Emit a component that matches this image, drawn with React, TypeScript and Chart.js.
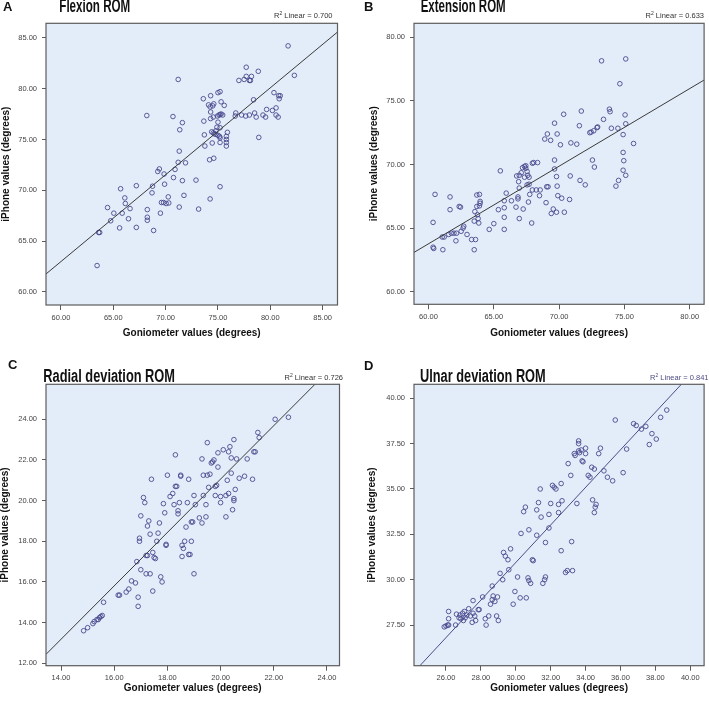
import React, { useEffect, useRef } from "react";
import { Chart, registerables } from "chart.js";
Chart.register(...registerables);

// ---------- Panel A: Flexion ROM ----------
const flexionGoniometer = [81.7, 82.3, 77.7, 78.85, 77.0, 77.5, 77.7, 78.0, 78.2, 78.1, 71.2, 75.0, 75.2, 73.6, 74.3, 75.3, 75.6, 74.1, 74.25, 74.5, 74.6, 78.4, 80.35, 80.8, 80.85, 80.95, 80.55, 80.2, 79.65, 79.3, 79.55, 80.55, 80.75, 78.5, 78.65, 76.7, 76.65, 77.25, 77.65, 78.0, 74.3, 74.3, 74.55, 74.95, 75.1, 75.2, 75.3, 75.45, 75.0, 75.2, 74.9, 74.8, 74.4, 74.55, 74.65, 74.8, 75.0, 75.15, 75.9, 75.8, 75.8, 75.8, 75.8, 75.2, 75.2, 74.45, 73.7, 73.65, 73.75, 74.2, 74.6, 75.2, 74.25, 73.15, 72.9, 78.9, 70.7, 71.6, 71.35, 71.3, 71.2, 71.9, 70.9, 70.75, 71.6, 69.4, 69.25, 69.85, 69.9, 68.75, 68.7, 71.75, 70.25, 69.6, 69.8, 70.05, 70.3, 71.3, 69.5, 68.25, 68.25, 68.25, 68.2, 68.85, 67.2, 67.2, 65.7, 66.1, 66.15, 66.6, 65.85, 65.05, 64.45, 64.75, 66.45, 65.6, 63.6, 63.7, 63.45];
const flexionIphone = [84.2, 81.3, 82.1, 81.7, 80.8, 80.9, 81.2, 80.8, 81.2, 80.8, 80.9, 79.6, 79.7, 79.0, 79.3, 78.7, 78.35, 78.4, 78.2, 78.3, 78.5, 78.9, 79.6, 79.3, 79.0, 79.3, 78.1, 77.85, 77.95, 77.4, 77.2, 77.4, 77.2, 77.6, 77.2, 77.6, 77.3, 77.4, 77.3, 77.4, 77.7, 77.05, 77.2, 77.3, 77.4, 77.45, 77.5, 77.4, 76.7, 76.15, 76.2, 75.85, 75.75, 75.65, 75.55, 75.5, 75.4, 75.3, 75.7, 75.3, 75.0, 74.7, 74.35, 75.15, 74.7, 74.65, 75.45, 76.8, 74.35, 73.0, 73.15, 70.35, 69.15, 68.15, 71.0, 75.2, 77.25, 76.65, 75.95, 73.85, 72.75, 72.7, 72.05, 71.25, 70.95, 72.1, 71.85, 71.6, 70.6, 70.4, 69.75, 69.5, 69.35, 68.8, 68.8, 68.7, 68.75, 68.35, 67.75, 68.1, 67.35, 67.05, 77.35, 66.05, 70.45, 66.35, 70.15, 69.25, 68.7, 68.2, 67.75, 67.75, 68.3, 67.0, 67.2, 66.3, 65.85, 65.85, 62.6];
const flexionTicks = [60, 65, 70, 75, 80, 85];

// ---------- Panel B: Extension ROM ----------
const extensionGoniometer = [73.25, 75.1, 74.65, 71.7, 70.35, 69.65, 73.85, 73.9, 73.4, 72.95, 72.9, 72.65, 72.45, 72.35, 71.55, 75.05, 75.1, 74.0, 74.5, 74.9, 75.7, 68.9, 69.1, 69.35, 69.85, 70.1, 70.9, 71.35, 74.9, 74.95, 75.1, 74.9, 74.55, 74.35, 72.55, 72.7, 71.6, 72.0, 70.85, 69.65, 69.65, 69.8, 69.85, 69.05, 69.15, 69.9, 70.2, 70.8, 69.0, 69.55, 69.4, 69.8, 70.4, 65.5, 66.95, 67.1, 67.35, 67.45, 67.6, 66.75, 66.9, 66.95, 66.85, 66.85, 67.2, 67.35, 67.45, 67.55, 67.7, 67.7, 67.55, 67.95, 68.05, 68.35, 67.95, 68.25, 68.55, 67.75, 68.5, 67.65, 67.25, 66.7, 66.95, 67.9, 65.8, 65.8, 65.8, 66.35, 65.95, 65.35, 65.0, 64.65, 65.8, 63.9, 63.95, 63.95, 63.9, 63.7, 63.7, 63.55, 63.75, 63.8, 63.85, 62.95, 63.3, 63.6, 63.5, 62.35, 62.45, 61.65, 61.65, 60.5, 60.35, 60.35, 60.4, 61.05, 61.2, 61.1, 61.55, 61.75, 61.95, 62.15, 62.1, 62.5, 62.7, 62.65, 63.5];
const extensionIphone = [78.15, 78.3, 76.35, 74.2, 73.95, 73.25, 74.35, 74.15, 73.55, 72.95, 72.9, 72.65, 72.55, 72.5, 73.05, 73.9, 73.2, 72.85, 72.85, 72.35, 71.65, 72.0, 72.4, 71.9, 72.4, 71.55, 71.7, 71.6, 70.95, 70.3, 69.15, 69.55, 68.75, 68.3, 70.35, 69.8, 68.75, 68.4, 69.1, 70.35, 69.65, 69.05, 68.3, 68.25, 68.25, 67.55, 67.35, 67.25, 67.0, 66.5, 66.15, 66.25, 66.25, 69.5, 69.15, 69.35, 69.0, 69.7, 69.15, 69.1, 68.65, 68.15, 67.45, 67.3, 69.75, 69.85, 69.9, 69.45, 69.0, 68.45, 68.4, 70.1, 70.15, 70.15, 68.0, 68.0, 68.0, 67.65, 67.55, 67.05, 66.5, 66.65, 65.75, 65.4, 67.15, 66.6, 65.85, 67.15, 67.75, 66.45, 65.35, 64.9, 64.9, 67.65, 66.95, 67.1, 66.75, 67.6, 66.7, 66.3, 66.05, 65.75, 65.4, 64.5, 64.1, 64.1, 63.3, 66.7, 66.65, 67.45, 66.45, 67.65, 65.45, 63.5, 63.4, 64.3, 64.3, 63.3, 64.5, 64.6, 64.6, 64.6, 64.0, 64.75, 65.15, 65.0, 65.55];
const extensionXTicks = [60, 65, 70, 75, 80];
const extensionYTicks = [60, 65, 70, 75, 80];

// ---------- Panel C: Radial deviation ROM ----------
const radialGoniometer = [22.05, 22.55, 21.4, 21.45, 21.25, 21.3, 20.5, 19.5, 20.35, 20.1, 19.9, 20.3, 20.4, 20.6, 21.0, 19.75, 19.65, 19.7, 19.3, 18.3, 19.9, 20.4, 20.7, 20.9, 21.2, 19.35, 19.5, 19.6, 18.5, 18.5, 18.0, 18.8, 17.4, 19.55, 19.8, 19.85, 20.25, 20.55, 18.3, 18.35, 18.2, 18.1, 19.0, 19.35, 19.8, 20.0, 20.2, 20.3, 20.5, 20.5, 20.0, 20.45, 20.2, 17.1, 17.15, 17.85, 18.25, 18.45, 18.4, 18.4, 18.75, 19.05, 17.9, 19.45, 19.2, 19.3, 19.45, 18.9, 18.95, 18.7, 17.0, 17.3, 17.25, 17.7, 17.35, 17.65, 16.95, 16.95, 17.6, 17.95, 17.95, 18.65, 18.9, 18.55, 18.6, 18.55, 18.8, 18.85, 17.45, 17.5, 17.2, 17.25, 17.55, 16.85, 17.0, 17.2, 17.35, 17.75, 17.8, 19.0, 16.65, 16.8, 16.55, 16.45, 16.15, 16.2, 16.9, 17.45, 16.9, 15.6, 15.55, 15.5, 15.45, 15.4, 15.35, 15.2, 15.25, 15.0, 14.85];
const radialIphone = [24.0, 24.1, 23.35, 23.1, 22.4, 22.4, 23.0, 22.85, 22.65, 22.5, 22.35, 22.4, 22.1, 22.05, 22.05, 22.0, 21.85, 21.9, 22.05, 22.25, 21.65, 21.35, 21.1, 21.2, 21.05, 21.25, 21.25, 21.3, 21.25, 21.2, 21.25, 21.05, 21.05, 20.65, 20.7, 20.75, 21.0, 20.55, 20.7, 20.7, 20.35, 20.2, 20.25, 20.25, 20.25, 20.2, 20.25, 20.35, 20.1, 20.0, 19.9, 19.55, 19.2, 20.15, 19.9, 19.85, 19.8, 19.9, 19.5, 19.35, 19.9, 19.8, 19.4, 19.8, 19.15, 18.9, 19.2, 18.95, 18.95, 18.7, 19.25, 19.0, 18.75, 18.9, 18.35, 18.4, 18.15, 18.0, 18.0, 17.85, 17.8, 18.0, 18.0, 17.8, 17.65, 17.25, 17.35, 17.35, 17.45, 17.2, 17.3, 17.3, 17.15, 17.0, 16.6, 16.4, 16.4, 16.25, 16.0, 16.4, 16.05, 15.95, 15.65, 15.5, 15.35, 15.35, 15.25, 15.55, 14.8, 15.0, 14.35, 14.3, 14.25, 14.15, 14.15, 13.95, 14.05, 13.75, 13.6];
const radialXTicks = [14, 16, 18, 20, 22, 24];
const radialYTicks = [12, 14, 16, 18, 20, 22, 24];

// ---------- Panel D: Ulnar deviation ROM ----------
const ulnarGoniometer = [25.9, 26.0, 26.1, 26.15, 26.15, 26.15, 26.55, 26.6, 26.75, 26.8, 26.85, 27.0, 26.95, 27.05, 27.1, 27.2, 27.3, 27.4, 27.55, 27.5, 27.7, 27.65, 27.55, 27.85, 27.9, 28.1, 28.25, 28.3, 28.45, 28.55, 28.65, 28.7, 28.8, 28.95, 28.9, 29.0, 28.65, 29.1, 29.25, 29.6, 29.85, 29.95, 30.1, 30.25, 30.6, 29.3, 29.4, 29.55, 29.7, 30.7, 30.75, 30.85, 30.95, 31.0, 31.55, 31.65, 31.7, 30.3, 30.75, 31.2, 31.7, 31.9, 32.6, 30.45, 30.55, 31.2, 31.45, 31.9, 31.4, 31.3, 32.0, 32.45, 32.45, 32.1, 32.2, 32.3, 32.6, 38.65, 38.3, 35.7, 36.75, 36.9, 37.2, 37.45, 37.8, 38.05, 37.65, 36.35, 34.85, 34.75, 34.0, 34.0, 33.6, 33.6, 33.6, 33.65, 33.75, 33.35, 33.4, 33.8, 33.85, 33.0, 33.15, 32.65, 34.35, 34.5, 34.15, 34.25, 35.05, 35.25, 35.55, 36.15, 34.4, 34.6, 34.55, 34.5, 33.5, 33.2, 32.85, 32.95, 33.25];
const ulnarIphone = [27.4, 27.45, 27.5, 27.5, 28.25, 27.85, 27.5, 28.1, 27.9, 28.05, 27.85, 27.75, 28.15, 28.25, 27.9, 28.05, 28.4, 28.0, 28.15, 27.65, 27.75, 28.0, 28.85, 28.35, 28.35, 29.05, 27.85, 27.5, 28.0, 28.65, 28.9, 29.1, 28.8, 29.05, 28.0, 27.75, 29.65, 30.35, 30.0, 30.55, 28.65, 29.35, 30.15, 29.0, 29.0, 31.5, 31.3, 31.1, 31.7, 30.1, 29.95, 29.8, 31.1, 31.05, 29.8, 30.0, 30.15, 32.55, 32.75, 32.45, 32.05, 32.85, 31.6, 33.75, 34.0, 33.85, 33.45, 33.6, 35.0, 34.25, 34.2, 34.15, 33.7, 35.2, 35.1, 35.0, 35.3, 39.35, 38.95, 38.8, 38.6, 38.5, 38.3, 38.45, 38.05, 37.75, 37.45, 37.2, 37.25, 36.95, 37.25, 36.95, 37.65, 37.5, 37.1, 37.0, 37.15, 36.95, 36.85, 36.55, 36.5, 36.4, 35.75, 34.35, 36.2, 36.1, 35.75, 35.65, 36.0, 35.65, 35.45, 35.9, 34.4, 34.15, 34.0, 33.7, 34.2, 32.1, 30.4, 30.5, 30.5];
const ulnarXTicks = [26, 28, 30, 32, 34, 36, 38, 40];
const ulnarYTicks = [27.5, 30, 32.5, 35, 37.5, 40];

// Fit lines (slope / intercept) and R² labels
const fitSlopes = [0.8542, 0.6101, 1.3135, 1.0353];
const fitIntercepts = [11.74, 27.16, -5.21, -0.11];
const r2Values = ["0.700", "0.633", "0.726", "0.841"];
const panelLetters = ["A", "B", "C", "D"];
const panelTitles = ["Flexion ROM", "Extension ROM", "Radial deviation ROM", "Ulnar deviation ROM"];
const yTitles = ["iPhone values (degrees)", "iPhone values (degrees)", "iPhone values (degrees)", "iPhone values (degrees)"];
const xTitles = ["Goniometer values (degrees)", "Goniometer values (degrees)", "Goniometer values (degrees)", "Goniometer values (degrees)"];

const FONT = "'Liberation Sans', Arial, sans-serif";
const BG = "#e3edf9";
const FRAME = "#5c5c5c";
const POINT = "#4a4a8e";

type PanelCfg = {
  idx: number;
  xs: number[]; ys: number[];
  xTicks: number[]; yTicks: number[];
  xMin: number; xMax: number; yMin: number; yMax: number;
  left: number; top: number; width: number; height: number;
  yAxisW: number; xAxisH: number; padTop: number; padRight: number;
  letterPos: [number, number]; titlePos: [number, number, number];
  r2Pos: [number, number]; yTitleX: number; xTitleY: number;
  lineColor: string; r2Color: string;
};

const PANELS: PanelCfg[] = [
  { idx: 0, xs: flexionGoniometer, ys: flexionIphone, xTicks: flexionTicks, yTicks: flexionTicks,
    xMin: 58.57, xMax: 86.42, yMin: 58.72, yMax: 86.42,
    left: 0, top: 0, width: 354, height: 350, yAxisW: 46, xAxisH: 45, padTop: 23.3, padRight: 16.5,
    letterPos: [3, 10.5], titlePos: [59.3, 11.5, 71], r2Pos: [332.5, 18.3], yTitleX: 6, xTitleY: 333,
    lineColor: "#3a3a3a", r2Color: "#333" },
  { idx: 1, xs: extensionGoniometer, ys: extensionIphone, xTicks: extensionXTicks, yTicks: extensionYTicks,
    xMin: 58.89, xMax: 81.1, yMin: 59.01, yMax: 81.1,
    left: 354, top: 0, width: 355, height: 350, yAxisW: 60, xAxisH: 45.7, padTop: 23.3, padRight: 4.3,
    letterPos: [10, 10.5], titlePos: [66.7, 11.5, 85], r2Pos: [350, 18.3], yTitleX: 20, xTitleY: 333,
    lineColor: "#3a3a3a", r2Color: "#333" },
  { idx: 2, xs: radialGoniometer, ys: radialIphone, xTicks: radialXTicks, yTicks: radialYTicks,
    xMin: 13.436, xMax: 24.47, yMin: 11.88, yMax: 25.72,
    left: 0, top: 350, width: 354, height: 352, yAxisW: 46, xAxisH: 36.3, padTop: 34.3, padRight: 14.5,
    letterPos: [8, 18.5], titlePos: [43.3, 31.7, 131.7], r2Pos: [343, 29.5], yTitleX: 5, xTitleY: 338,
    lineColor: "#3a3a3a", r2Color: "#333" },
  { idx: 3, xs: ulnarGoniometer, ys: ulnarIphone, xTicks: ulnarXTicks, yTicks: ulnarYTicks,
    xMin: 24.167, xMax: 40.79, yMin: 25.26, yMax: 40.77,
    left: 354, top: 350, width: 355, height: 352, yAxisW: 60, xAxisH: 36.3, padTop: 34.3, padRight: 2,
    letterPos: [10, 20], titlePos: [66, 31.7, 125.7], r2Pos: [354.5, 30], yTitleX: 18, xTitleY: 338,
    lineColor: "#4c4c86", r2Color: "#4c4c86" },
];

function drawR2(ctx: CanvasRenderingContext2D, right: number, baseline: number, value: string, color: string) {
  const f1 = `7.5px ${FONT}`;
  const f2 = `5px ${FONT}`;
  const rest = ` Linear = ${value}`;
  ctx.font = f1;
  const wR = ctx.measureText("R").width;
  const wRest = ctx.measureText(rest).width;
  ctx.font = f2;
  const w2 = ctx.measureText("2").width;
  let x = right - (wR + w2 + wRest);
  ctx.fillStyle = color;
  ctx.textAlign = "left";
  ctx.textBaseline = "alphabetic";
  ctx.font = f1; ctx.fillText("R", x, baseline); x += wR;
  ctx.font = f2; ctx.fillText("2", x, baseline - 3); x += w2;
  ctx.font = f1; ctx.fillText(rest, x, baseline);
}

function makeDecor(p: PanelCfg) {
  return {
    id: "decor" + p.idx,
    beforeDraw(chart: any) {
      const { ctx, chartArea: a } = chart;
      ctx.save();
      ctx.fillStyle = BG;
      ctx.fillRect(a.left, a.top, a.right - a.left, a.bottom - a.top);
      ctx.restore();
    },
    afterDraw(chart: any) {
      const { ctx, chartArea: a } = chart;
      ctx.save();
      ctx.strokeStyle = FRAME;
      ctx.lineWidth = 1.2;
      ctx.strokeRect(a.left, a.top, a.right - a.left, a.bottom - a.top);
      ctx.fillStyle = "#111";
      ctx.textBaseline = "alphabetic";
      ctx.textAlign = "left";
      ctx.font = `bold 13px ${FONT}`;
      ctx.fillText(panelLetters[p.idx], p.letterPos[0], p.letterPos[1]);
      ctx.font = `bold 18px ${FONT}`;
      ctx.fillText(panelTitles[p.idx], p.titlePos[0], p.titlePos[1], p.titlePos[2]);
      drawR2(ctx, p.r2Pos[0], p.r2Pos[1], r2Values[p.idx], p.r2Color);
      ctx.fillStyle = "#111";
      ctx.font = `bold 10px ${FONT}`;
      ctx.textAlign = "center";
      ctx.textBaseline = "middle";
      ctx.fillText(xTitles[p.idx], (a.left + a.right) / 2, p.xTitleY);
      ctx.translate(p.yTitleX, (a.top + a.bottom) / 2);
      ctx.rotate(-Math.PI / 2);
      ctx.fillText(yTitles[p.idx], 0, 0);
      ctx.restore();
    },
  };
}

function Panel({ p }: { p: PanelCfg }) {
  const ref = useRef<HTMLCanvasElement>(null);
  useEffect(() => {
    const slope = fitSlopes[p.idx];
    const icpt = fitIntercepts[p.idx];
    const chart = new Chart(ref.current!, {
      type: "scatter",
      data: {
        datasets: [
          {
            data: [
              { x: p.xMin, y: icpt + slope * p.xMin },
              { x: p.xMax, y: icpt + slope * p.xMax },
            ],
            showLine: true,
            borderColor: p.lineColor,
            borderWidth: 1,
            pointRadius: 0,
            fill: false,
          },
          {
            data: p.xs.map((x, i) => ({ x, y: p.ys[i] })),
            pointRadius: 2.3,
            pointBorderWidth: 0.9,
            pointBorderColor: POINT,
            pointBackgroundColor: "rgba(0,0,0,0)",
            borderColor: POINT,
            backgroundColor: "rgba(0,0,0,0)",
          },
        ],
      },
      options: {
        animation: false,
        responsive: false,
        maintainAspectRatio: false,
        devicePixelRatio: 1,
        layout: { padding: { left: 0, top: p.padTop, right: p.padRight, bottom: 0 } },
        plugins: { legend: { display: false }, tooltip: { enabled: false }, title: { display: false } },
        events: [],
        scales: {
          x: {
            type: "linear",
            min: p.xMin,
            max: p.xMax,
            afterBuildTicks: (s: any) => { s.ticks = p.xTicks.map((v) => ({ value: v })); },
            afterFit: (s: any) => { s.height = p.xAxisH; },
            grid: { display: true, drawOnChartArea: false, drawTicks: true, tickLength: 5, color: FRAME, lineWidth: 1 },
            border: { display: false },
            ticks: {
              font: { family: FONT, size: 7.5 },
              color: "#444",
              padding: 3,
              maxRotation: 0,
              autoSkip: false,
              callback: (v: any) => Number(v).toFixed(2),
            },
          },
          y: {
            type: "linear",
            min: p.yMin,
            max: p.yMax,
            afterBuildTicks: (s: any) => { s.ticks = p.yTicks.map((v) => ({ value: v })); },
            afterFit: (s: any) => { s.width = p.yAxisW; },
            grid: { display: true, drawOnChartArea: false, drawTicks: true, tickLength: 4, color: FRAME, lineWidth: 1 },
            border: { display: false },
            ticks: {
              font: { family: FONT, size: 7.5 },
              color: "#444",
              padding: 5,
              autoSkip: false,
              callback: (v: any) => Number(v).toFixed(2),
            },
          },
        },
      },
      plugins: [makeDecor(p)],
    } as any);
    return () => chart.destroy();
  }, []);
  return (
    <canvas
      ref={ref}
      width={p.width}
      height={p.height}
      style={{ position: "absolute", left: p.left, top: p.top, width: p.width, height: p.height }}
    />
  );
}

export default function App() {
  return (
    <div style={{ position: "fixed", left: 0, top: 0, width: 709, height: 702, background: "#fff" }}>
      {PANELS.map((p) => (
        <Panel key={p.idx} p={p} />
      ))}
    </div>
  );
}
